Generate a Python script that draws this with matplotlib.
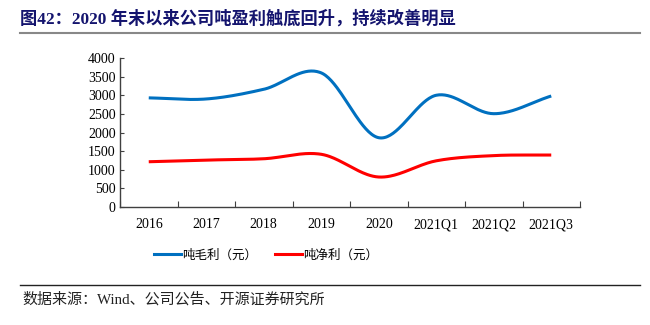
import numpy as np
import matplotlib
matplotlib.use("Agg")
import matplotlib.pyplot as plt
from matplotlib.lines import Line2D

categories = ["2016", "2017", "2018", "2019", "2020", "2021Q1", "2021Q2", "2021Q3"]
gross_profit = [2930, 2900, 3160, 3600, 1860, 3000, 2505, 2980]
net_profit = [1215, 1260, 1295, 1415, 805, 1240, 1380, 1395]
yticks = [0, 500, 1000, 1500, 2000, 2500, 3000, 3500, 4000]

SERIF = ["Liberation Serif", "Noto Sans CJK SC"]
CJK = ["Noto Sans CJK SC", "Liberation Serif"]


def smooth(x, y, n=40):
    # Catmull-Rom style smoothing (like Excel smoothed lines)
    x = np.asarray(x, float)
    y = np.asarray(y, float)
    px = np.concatenate([[2 * x[0] - x[1]], x, [2 * x[-1] - x[-2]]])
    py = np.concatenate([[2 * y[0] - y[1]], y, [2 * y[-1] - y[-2]]])
    xs, ys = [], []
    for i in range(1, len(px) - 2):
        t = np.linspace(0, 1, n, endpoint=False)
        p0, p1, p2, p3 = py[i - 1], py[i], py[i + 1], py[i + 2]
        q0, q1, q2, q3 = px[i - 1], px[i], px[i + 1], px[i + 2]
        f = lambda a0, a1, a2, a3: 0.5 * ((2 * a1) + (-a0 + a2) * t +
                                         (2 * a0 - 5 * a1 + 4 * a2 - a3) * t ** 2 +
                                         (-a0 + 3 * a1 - 3 * a2 + a3) * t ** 3)
        xs.append(f(q0, q1, q2, q3))
        ys.append(f(p0, p1, p2, p3))
    xs.append([x[-1]])
    ys.append([y[-1]])
    return np.concatenate(xs), np.concatenate(ys)


fig = plt.figure(figsize=(6.5, 3.25), dpi=100)
ax = fig.add_axes([120 / 650, 1 - 207 / 325, 460 / 650, 149 / 325])

x = np.arange(len(categories))
sx, sy = smooth(x, gross_profit)
ax.plot(sx, sy, color="#0070C0", lw=2.2, solid_capstyle="butt")
sx, sy = smooth(x, net_profit)
ax.plot(sx, sy, color="#FF0000", lw=2.2, solid_capstyle="butt")

ax.set_xlim(-0.5, len(categories) - 0.5)
ax.set_ylim(0, 4000)
ax.set_yticks(yticks)
ax.set_yticklabels([str(v) for v in yticks], family=SERIF, fontsize=10)
ax.set_xticks(np.arange(-0.5, len(categories) - 0.4, 1))
ax.set_xticklabels([])
ax.set_xticks(x, minor=True)
ax.set_xticklabels(categories, minor=True, family=SERIF, fontsize=10)
ax.tick_params(axis="x", which="major", direction="in", length=4, color="#404040")
ax.tick_params(axis="x", which="minor", length=0, pad=8)
ax.tick_params(axis="y", direction="in", length=3, color="#404040", pad=3)
for s in ["top", "right"]:
    ax.spines[s].set_visible(False)
for s in ["left", "bottom"]:
    ax.spines[s].set_color("#404040")
    ax.spines[s].set_linewidth(1.0)

handles = [Line2D([], [], color="#0070C0", lw=2.2),
           Line2D([], [], color="#FF0000", lw=2.2)]
leg = fig.legend(handles, ["吨毛利（元）", "吨净利（元）"], loc="center",
                 bbox_to_anchor=(266 / 650, 1 - 255 / 325), ncol=2, frameon=False,
                 prop={"family": CJK, "size": 9}, handlelength=2.2,
                 handletextpad=0.1, columnspacing=1.4)

fig.text(20 / 650, 1 - 19 / 325, "图42：2020 年末以来公司吨盈利触底回升，持续改善明显",
         family=SERIF, fontsize=12.4, fontweight="bold", color="#14146E", va="center")
fig.add_artist(Line2D([20 / 650, 640 / 650], [1 - 33 / 325, 1 - 33 / 325],
                      color="#888888", lw=1.5))
fig.add_artist(Line2D([20 / 650, 640 / 650], [1 - 285 / 325, 1 - 285 / 325],
                      color="#222222", lw=1.0))
fig.text(22 / 650, 1 - 299 / 325, "数据来源：Wind、公司公告、开源证券研究所",
         family=SERIF, fontsize=10.8, color="#222222", va="center")

fig.savefig("out.png", dpi=100)
